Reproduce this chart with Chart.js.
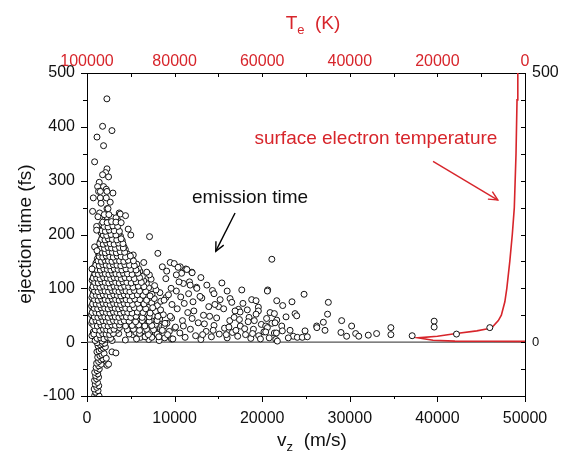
<!DOCTYPE html>
<html>
<head>
<meta charset="utf-8">
<script src="https://cdn.jsdelivr.net/npm/chart.js@4.4.0/dist/chart.umd.min.js"></script>
<style>
  html, body { margin: 0; padding: 0; background: #fff; }
  #wrap { width: 570px; height: 463px; }
</style>
</head>
<body>
<div id="wrap"><canvas id="myChart" width="570" height="463"></canvas></div>
<script>
// ---- data: [v_z (m/s), ejection time (fs)] ----
const negBranch = [
  [880,-99],[1120,-97],[1380,-100],[990,-93],[1260,-90],[820,-87],[1110,-84],[1340,-81],[940,-78],[1200,-75],
  [860,-71],[1090,-68],[1320,-65],[980,-62],[1230,-59],[880,-56],[1150,-53],[1400,-50],[1040,-47],[1330,-44],
  [1620,-41],[1100,-39],[1330,-36],[1560,-33],[1800,-31],[1220,-28],[1470,-25],[1700,-23],[1950,-21],[1130,-18],
  [1380,-16],[1610,-13],[1860,-11],[2100,-9],[1260,-7],[1520,-5],[1770,-3],[2020,-2],[1150,-1],
  [2280,-43],[2460,-41],[2850,-18],[3300,-20],[2200,-30]
];

const coreCloud = [
  [930,3],[1340,6],[1720,2],[2080,5],[2530,8],[2870,3],[4380,4],[6120,9],[7050,5],[8240,3],[9640,6],
  [560,12],[1110,11],[1530,9],[1910,13],[2290,10],[2690,12],[3620,16],[5230,14],[6630,10],[7580,13],[8870,8],
  [720,19],[1280,17],[1690,20],[2120,18],[2480,21],[2930,17],[3380,22],[5580,18],[6340,21],[7190,19],[8160,17],[9400,20],
  [1090,27],[1510,25],[1880,28],[2330,26],[2710,29],[3120,25],[3700,27],[4930,28],[5870,26],[6820,29],[7730,25],[8520,30],[10020,26],
  [540,35],[900,35],[1310,33],[1690,36],[2110,34],[2520,37],[2880,33],[3310,36],[4020,35],[4580,33],[5320,37],[6090,34],[6980,36],[7820,33],[9130,35],
  [700,43],[1120,43],[1480,41],[1930,44],[2270,42],[2730,45],[3090,41],[3520,44],[3880,42],[4430,45],[4990,41],[5710,43],[6480,44],[7330,41],[8290,43],[9660,45],
  [510,51],[920,51],[1330,49],[1710,52],[2090,50],[2540,53],[2910,49],[3280,52],[3720,50],[4090,53],[4620,49],[5180,52],[5930,50],[6620,53],[7460,49],[8710,51],
  [680,59],[1090,59],[1520,57],[1880,60],[2320,58],[2680,61],[3130,57],[3490,60],[3920,58],[4310,61],[4790,57],[5420,60],[6070,58],[6910,61],[7830,57],
  [530,67],[930,67],[1290,65],[1730,68],[2080,66],[2510,69],[2920,65],[3290,68],[3710,66],[4120,69],[4480,65],[5030,68],[5590,66],[6320,69],[7080,65],[8030,68],
  [720,75],[1110,75],[1490,73],[1920,76],[2280,74],[2720,77],[3080,73],[3530,76],[3880,74],[4330,77],[4720,73],[5210,76],[5790,74],[6520,77],[7380,73],[8420,76],
  [560,83],[960,83],[1320,83],[1680,81],[2130,84],[2470,82],[2920,85],[3280,81],[3730,84],[4080,82],[4530,85],[4980,81],[5520,84],[6080,82],[6820,85],[7680,81],[9020,83],
  [740,91],[1120,91],[1510,89],[1870,92],[2330,90],[2680,93],[3120,89],[3480,92],[3930,90],[4280,93],[4820,89],[5290,92],[5920,90],[6630,93],[7420,89],[8320,92],
  [580,99],[940,99],[1290,99],[1730,97],[2080,100],[2520,98],[2880,101],[3320,97],[3680,100],[4130,98],[4580,101],[5120,97],[5630,100],[6280,98],[7030,101],[7880,97],
  [760,107],[1110,107],[1480,105],[1930,108],[2270,106],[2730,109],[3080,105],[3520,108],[3880,106],[4420,109],[4880,105],[5430,108],[6010,106],[6780,109],[7720,105],
  [590,115],[970,115],[1320,115],[1690,113],[2120,116],[2480,114],[2930,117],[3270,113],[3730,116],[4180,114],[4720,117],[5180,113],[5830,116],[6480,114],[7320,117],
  [780,123],[1130,123],[1520,121],[1880,124],[2310,122],[2690,125],[3120,121],[3480,124],[4020,122],[4480,125],[5030,121],[5580,124],[6320,122],[7120,125],
  [960,131],[1310,131],[1720,129],[2080,132],[2530,130],[2880,133],[3320,129],[3780,132],[4320,130],[4770,133],[5420,129],[6030,132],[6820,130],
  [820,139],[1180,139],[1530,139],[1890,137],[2320,140],[2680,138],[3130,141],[3480,137],[4030,140],[4580,138],[5230,141],[5880,137],
  [1020,147],[1330,147],[1720,145],[2080,148],[2520,146],[2890,149],[3310,145],[3820,148],[4370,146],[5020,149],[5680,145],[6480,148],
  [1180,155],[1520,155],[1880,153],[2330,156],[2690,154],[3120,157],[3580,153],[4220,156],[4830,154],
  [1330,163],[1730,163],[2080,161],[2530,164],[2880,162],[3420,165],[3980,161],[4620,164],[5280,162],
  [1480,171],[1910,169],[2320,172],[2680,170],[3220,173],[3820,169],[4380,172],
  [1690,179],[2120,177],[2480,180],[3010,178],[3580,181],[4230,177],
  [1520,187],[1910,187],[2330,185],[2780,188],[3420,186],[4020,189],
  [1730,195],[2080,193],[2620,196],[3180,194],[3820,197],
  [1620,203],[2010,203],[2420,201],[2980,204],[3620,202],
  [1830,211],[2280,209],[2820,212],[3380,210],
  [1680,219],[2120,219],[2620,217],[3180,220],
  [2010,227],[2480,225],[3020,228],[3520,226],
  [2280,233],[2810,232],[3310,231]
];

// second pass over the darkest part of the cloud
const coreFill = [
  [1150,7],[1560,8],[1930,6],[2330,9],[2700,7],[5650,6],[7400,9],
  [780,15],[1400,14],[1780,16],[2180,15],[2580,14],[3000,16],[4800,15],[6000,16],[7000,14],[8000,15],
  [950,23],[1460,22],[1870,24],[2250,23],[2650,22],[3080,24],[4600,23],[5300,24],[6000,22],[6800,24],[7600,23],
  [760,31],[1180,30],[1590,32],[1990,31],[2400,30],[2820,32],[3250,31],[3700,32],[4400,30],[5150,31],[5900,32],[6600,30],[7400,31],[8800,30],
  [620,39],[1030,40],[1420,38],[1810,40],[2210,39],[2600,38],[3020,40],[3420,39],[3850,38],[4250,40],[4800,39],[5550,38],[6300,40],[7100,39],[8000,40],
  [840,47],[1240,46],[1620,48],[2030,47],[2420,46],[2830,48],[3230,47],[3640,46],[4040,48],[4500,47],[5000,46],[5600,48],[6300,46],[7100,47],[8100,48],
  [600,55],[1010,55],[1410,54],[1800,56],[2210,55],[2620,54],[3020,56],[3420,55],[3820,54],[4220,56],[4650,55],[5150,54],[5750,56],[6400,55],[7200,54],
  [820,63],[1220,62],[1620,64],[2020,63],[2420,62],[2820,64],[3220,63],[3620,62],[4020,64],[4420,63],[4900,62],[5400,64],[6000,63],[6700,62],[7500,64],
  [640,71],[1040,71],[1440,70],[1840,72],[2240,71],[2640,70],[3040,72],[3440,71],[3840,70],[4240,72],[4680,71],[5200,70],[5800,72],[6500,71],
  [860,79],[1270,78],[1670,80],[2070,79],[2470,78],[2870,80],[3270,79],[3670,78],[4070,80],[4470,79],[4920,78],[5450,80],[6050,79],[6800,78],
  [660,87],[1060,87],[1460,86],[1860,88],[2260,87],[2660,86],[3060,88],[3460,87],[3860,86],[4260,88],[4700,87],[5180,86],[5750,88],[6400,87],[7200,86],
  [860,95],[1260,94],[1660,96],[2060,95],[2460,94],[2860,96],[3260,95],[3660,94],[4060,96],[4460,95],[4900,94],[5400,96],[6000,95],[6700,94],
  [680,103],[1080,103],[1480,102],[1880,104],[2280,103],[2680,102],[3080,104],[3480,103],[3880,102],[4300,104],[4750,103],[5250,102],[5850,104],[6500,103],
  [880,111],[1280,110],[1680,112],[2080,111],[2480,110],[2880,112],[3280,111],[3680,110],[4100,112],[4550,111],[5050,110],[5600,112],[6200,111],
  [700,119],[1100,119],[1500,118],[1900,120],[2300,119],[2700,118],[3100,120],[3500,119],[3920,118],[4350,120],[4850,119],[5400,118],[6000,120],
  [900,127],[1300,126],[1700,128],[2100,127],[2500,126],[2900,128],[3300,127],[3720,126],[4150,128],[4620,127],[5150,126],[5800,128],
  [720,135],[1120,135],[1520,134],[1920,136],[2320,135],[2720,134],[3120,136],[3540,135],[3980,134],[4450,136],[5000,135],[5600,134],
  [1000,143],[1400,142],[1800,144],[2200,143],[2600,142],[3000,144],[3420,143],[3860,142],[4320,144],[4850,143],[5400,142],
  [1250,151],[1650,150],[2050,152],[2450,151],[2850,150],[3280,152],[3720,151],[4200,150],[4700,152],[5300,151],
  [1400,159],[1800,158],[2200,160],[2600,159],[3000,158],[3450,160],[3900,159],[4400,158],[4950,160],
  [1300,167],[1700,167],[2100,166],[2500,168],[2900,167],[3350,166],[3800,168],[4300,167],
  [1600,175],[2000,174],[2400,176],[2800,175],[3250,174],[3700,176],[4150,175],
  [1450,183],[1850,182],[2250,184],[2650,183],[3100,182],[3600,184],[4100,183],
  [1650,191],[2050,190],[2450,192],[2900,191],[3400,190],[3900,192],
  [1850,199],[2250,198],[2750,200],[3300,199],
  [1700,207],[2100,206],[2550,208],[3100,207],[3700,206],
  [1950,215],[2400,214],[2950,216],[3500,215],
  [1800,223],[2300,222],[2800,224],[3300,223]
];

const upperSparse = [
  [2270,452],[1780,401],[2850,393],[1140,381],[1890,365],[870,335],[2280,322],[2120,315],[1780,311],[2460,307],
  [1400,297],[1210,289],[1890,289],[1320,280],[2200,284],[2960,277],[720,268],[1520,268],[2200,268],[2280,248],
  [2400,248],[640,243],[1440,240],[1970,237],[1250,233],[2500,237],[3680,240],[3800,238],[4400,235],[1520,280],
  [2280,280],[1100,215],[1100,208],[870,177],[1140,170],[570,136],[7140,196],[8090,165],[5000,199],[4700,210],
  [3900,222],[1600,258],[2650,260]
];

const midTail = [
  [9500,148],[9960,146],[10640,140],[11280,136],[11970,130],[10400,139],[10800,128],[11400,135],[12000,129],[11000,109],
  [11700,112],[12500,102],[13680,106],[14320,96],[12540,100],[11780,106],[15400,110],[13110,82],[15200,79],[16330,81],
  [16530,74],[15020,66],[17290,61],[17480,56],[18500,46],[17670,97],[18800,79],[19300,77],[19560,65],[19560,58],
  [20630,97],[21660,77],[21100,35],[21660,41],[21100,154],
  [8200,10],[8600,22],[8900,35],[9200,14],[9500,48],[9800,6],[10100,28],[10300,62],[10600,17],[10900,40],
  [11200,9],[11500,55],[11800,24],[12100,75],[12400,12],[12700,36],[13000,5],[13300,50],[13600,20],[13900,66],
  [14200,10],[14500,31],[14800,45],[15100,15],[15700,26],[16000,8],[16300,40],[16600,18],[16900,58],[17200,11],
  [17500,30],[17800,72],[18100,14],[18400,38],[18700,7],[19000,24],[19300,52],[19600,12],[19900,33],[20200,19],
  [20500,44],[20800,8],[8400,60],[8800,78],[9300,88],[9700,70],[10200,95],[10700,84],[11100,72],[11600,90],
  [12200,58],[12900,85],[13400,34],[14000,48],[14600,70],[15600,62],[16200,28],[16800,46],[17400,42],[18000,25],
  [18300,60],[19100,40],[19800,6],[20400,30],[20900,55],[9000,118],[9600,100],[10500,112],[13200,14],[14400,22],
  [15900,14],[17000,22],[18900,16],[12000,44],[11000,30],[9100,132],[10200,125],[8600,140],[13000,120],[14500,90],[16000,95]
];

const farTail = [
  [21390,53],[21470,36],[22340,68],[23400,75],[23750,53],[23940,49],[22720,47],[24780,89],[22230,30],[20590,27],
  [20400,19],[21390,17],[21620,17],[22300,21],[23180,22],[23550,11],[22980,8],[24010,9],[24580,9],[25150,10],
  [24890,21],[21550,5],[21730,2],[20590,95],[27550,74],[27460,52],[29070,40],[26980,37],[26220,30],[26240,27],
  [27170,22],[30210,30],[28990,18],[29640,11],[30670,16],[31020,11],[32110,13],[33060,16],[34690,27],[34690,14],
  [37120,12],[39630,39],[39630,28],[42180,15],[45980,27]
];

// surface electron temperature curve (top axis T_e in K, left axis time in fs)
const teKelvin = [0, 8000, 16000, 21000, 24500, 20000, 15700, 11000, 8500, 7450, 6090, 5400, 4600, 4150, 3470, 2900, 2440, 2050, 1820, 1640];
const teTime   = [1.5, 1.6, 2, 3.5, 8, 11, 16, 21, 25, 28, 40, 50, 75, 100, 150, 200, 250, 350, 450, 500];

// axis ticks
const bottomLabels = [0, 10000, 20000, 30000, 40000, 50000];
const topLabels = [0, 20000, 40000, 60000, 80000, 100000];
const leftLabels = [-100, 0, 100, 200, 300, 400, 500];
const rightLabels = [0, 500];

// annotations
const emissionArrow = [[16900, 240], [14700, 169]];
const surfaceArrow = [[39500, 336], [46900, 264]];
const emissionText = { v: 18620, t: 259, text: 'emission time' };
const surfaceText = { v: 32980, t: 369, text: 'surface electron temperature' };

const RED = '#d7252b';
const FONT = '"Liberation Sans", Arial, Helvetica, sans-serif';

const toPts = (arr) => arr.map((p) => ({ x: p[0], y: p[1] }));
const scatterPts = toPts(negBranch.concat(coreCloud, coreFill, upperSparse, midTail, farTail));
const tePts = teKelvin.map((k, i) => ({ x: k, y: teTime[i] }));

function setTicks(values) {
  return (scale) => { scale.ticks = values.map((v) => ({ value: v })); };
}
const plainLabel = (v) => String(v);

function drawArrow(ctx, x0, y0, x1, y1, color) {
  const ang = Math.atan2(y1 - y0, x1 - x0);
  const head = 10;
  ctx.strokeStyle = color;
  ctx.lineWidth = 1.4;
  ctx.beginPath();
  ctx.moveTo(x0, y0);
  ctx.lineTo(x1, y1);
  ctx.stroke();
  ctx.beginPath();
  ctx.moveTo(x1 - head * Math.cos(ang - 0.45), y1 - head * Math.sin(ang - 0.45));
  ctx.lineTo(x1, y1);
  ctx.lineTo(x1 - head * Math.cos(ang + 0.45), y1 - head * Math.sin(ang + 0.45));
  ctx.stroke();
}

const overlay = {
  id: 'overlay',
  afterDraw(chart) {
    const ctx = chart.ctx;
    const { x, x2, y } = chart.scales;
    const a = chart.chartArea;
    ctx.save();
    ctx.strokeStyle = '#000';
    ctx.lineWidth = 1;
    const seg = (p, q, r, s) => { ctx.beginPath(); ctx.moveTo(p, q); ctx.lineTo(r, s); ctx.stroke(); };

    // bottom ticks, outward
    for (let v = 0; v <= 50000; v += 5000) {
      const px = Math.round(x.getPixelForValue(v)) + 0.5;
      seg(px, a.bottom, px, a.bottom + (v % 10000 === 0 ? 6 : 3));
    }
    // top ticks, inward
    for (let v = 0; v <= 100000; v += 10000) {
      const px = Math.round(x2.getPixelForValue(v)) + 0.5;
      seg(px, a.top, px, a.top + 4);
    }
    // left ticks outward, right ticks inward
    for (let v = -100; v <= 500; v += 50) {
      const py = Math.round(y.getPixelForValue(v)) + 0.5;
      seg(a.left - (v % 100 === 0 ? 6 : 4), py, a.left, py);
      seg(a.right - 4, py, a.right, py);
    }

    // annotations
    drawArrow(ctx, x.getPixelForValue(emissionArrow[0][0]), y.getPixelForValue(emissionArrow[0][1]),
      x.getPixelForValue(emissionArrow[1][0]), y.getPixelForValue(emissionArrow[1][1]), '#000');
    drawArrow(ctx, x.getPixelForValue(surfaceArrow[0][0]), y.getPixelForValue(surfaceArrow[0][1]),
      x.getPixelForValue(surfaceArrow[1][0]), y.getPixelForValue(surfaceArrow[1][1]), RED);

    ctx.textAlign = 'center';
    ctx.textBaseline = 'alphabetic';
    ctx.font = '19px ' + FONT;
    ctx.fillStyle = '#111';
    ctx.fillText(emissionText.text, x.getPixelForValue(emissionText.v), y.getPixelForValue(emissionText.t));
    ctx.fillStyle = RED;
    ctx.fillText(surfaceText.text, x.getPixelForValue(surfaceText.v), y.getPixelForValue(surfaceText.t));

    // axis titles
    const subTitle = (main, sub, rest, cx, base, color) => {
      ctx.fillStyle = color;
      ctx.textAlign = 'left';
      ctx.font = '19px ' + FONT;
      const w1 = ctx.measureText(main).width;
      const w3 = ctx.measureText(rest).width;
      ctx.font = '13px ' + FONT;
      const w2 = ctx.measureText(sub).width;
      let px = cx - (w1 + w2 + w3) / 2;
      ctx.font = '19px ' + FONT;
      ctx.fillText(main, px, base);
      px += w1;
      ctx.font = '13px ' + FONT;
      ctx.fillText(sub, px, base + 5);
      px += w2;
      ctx.font = '19px ' + FONT;
      ctx.fillText(rest, px, base);
    };
    subTitle('v', 'z', '  (m/s)', 312, 446, '#111');
    subTitle('T', 'e', '  (K)', 313, 29, RED);

    ctx.translate(31, 234);
    ctx.rotate(-Math.PI / 2);
    ctx.textAlign = 'center';
    ctx.font = '19px ' + FONT;
    ctx.fillStyle = '#111';
    ctx.fillText('ejection time (fs)', 0, 0);
    ctx.restore();
  }
};

const tickFont = { family: FONT, size: 16 };

const config = {
  type: 'scatter',
  data: {
    datasets: [
      {
        label: 'ejection time',
        data: scatterPts,
        xAxisID: 'x',
        yAxisID: 'y',
        pointStyle: 'circle',
        pointRadius: 3,
        pointBorderWidth: 1,
        pointBorderColor: '#111',
        pointBackgroundColor: '#fff',
        order: 1
      },
      {
        label: 'surface electron temperature',
        data: tePts,
        xAxisID: 'x2',
        yAxisID: 'y',
        showLine: true,
        pointRadius: 0,
        borderColor: RED,
        borderWidth: 1.6,
        fill: false,
        order: 2
      },
      {
        label: 'zero',
        data: [{ x: 0, y: 0 }, { x: 50000, y: 0 }],
        xAxisID: 'x',
        yAxisID: 'y',
        showLine: true,
        pointRadius: 0,
        borderColor: '#555',
        borderWidth: 1.2,
        order: 3
      }
    ]
  },
  options: {
    responsive: false,
    devicePixelRatio: 1,
    animation: false,
    layout: { padding: 0 },
    plugins: { legend: { display: false }, tooltip: { enabled: false } },
    scales: {
      x: {
        type: 'linear', position: 'bottom', min: 0, max: 50000,
        grid: { display: false, drawTicks: false },
        border: { display: true, color: '#000', width: 1 },
        ticks: { font: tickFont, color: '#111', padding: 13, maxRotation: 0, callback: plainLabel },
        afterBuildTicks: setTicks(bottomLabels),
        afterFit: (s) => { s.height = 67; }
      },
      x2: {
        type: 'linear', position: 'top', min: 0, max: 100000, reverse: true,
        grid: { display: false, drawTicks: false },
        border: { display: true, color: '#000', width: 1 },
        ticks: { font: tickFont, color: RED, padding: 2, maxRotation: 0, callback: plainLabel },
        afterBuildTicks: setTicks(topLabels),
        afterFit: (s) => { s.height = 73; }
      },
      y: {
        type: 'linear', position: 'left', min: -100, max: 500,
        grid: { display: false, drawTicks: false },
        border: { display: true, color: '#000', width: 1 },
        ticks: { font: tickFont, color: '#111', padding: 12, callback: plainLabel },
        afterBuildTicks: setTicks(leftLabels),
        afterFit: (s) => { s.width = 87; }
      },
      y2: {
        type: 'linear', position: 'right', min: -100, max: 500,
        grid: { display: false, drawTicks: false },
        border: { display: true, color: '#000', width: 1 },
        ticks: {
          color: '#111', padding: 7, callback: plainLabel,
          font: (c) => ({ family: FONT, size: c.tick && c.tick.value === 0 ? 13 : 16 })
        },
        afterBuildTicks: setTicks(rightLabels),
        afterFit: (s) => { s.width = 45; }
      }
    }
  },
  plugins: [overlay]
};

const ctx = document.getElementById('myChart').getContext('2d');
const myChart = new Chart(ctx, config);
</script>
</body>
</html>
